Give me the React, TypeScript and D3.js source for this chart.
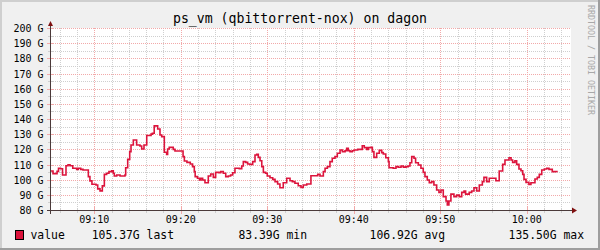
import React from "react";
import * as d3 from "d3";

const TITLE = "ps_vm (qbittorrent-nox) on dagon";
const WATERMARK = "RRDTOOL / TOBI OETIKER";
const SERIES_NAME = "value";
const START_TIME = "09:05:00";
const END_TIME = "10:05:00";

// seconds after START_TIME at which each step begins
const SAMPLE_SECONDS = [
  0, 14, 42, 52, 66, 80, 104, 118, 132, 151, 178, 189, 206, 222, 259, 270, 284, 312, 324, 340,
  356, 370, 386, 402, 421, 432, 439, 456, 479, 513, 518, 532, 546, 555, 571, 594, 617, 629, 645, 664,
  694, 703, 716, 740, 756, 768, 786, 802, 809, 820, 848, 860, 916, 925, 943, 966, 982, 994, 1000, 1016,
  1030, 1040, 1052, 1068, 1091, 1108, 1126, 1142, 1165, 1177, 1195, 1212, 1230, 1246, 1260, 1276, 1306, 1323, 1334, 1350,
  1364, 1380, 1399, 1415, 1427, 1438, 1450, 1462, 1473, 1489, 1500, 1519, 1538, 1554, 1572, 1588, 1611, 1635, 1658, 1674,
  1692, 1715, 1734, 1750, 1774, 1803, 1850, 1866, 1889, 1901, 1917, 1935, 1951, 1970, 1986, 2005, 2021, 2040, 2051, 2062,
  2074, 2090, 2104, 2127, 2159, 2173, 2190, 2201, 2217, 2229, 2240, 2259, 2277, 2294, 2305, 2322, 2340, 2345, 2374, 2393,
  2409, 2428, 2444, 2462, 2478, 2490, 2502, 2518, 2529, 2548, 2566, 2582, 2594, 2610, 2624, 2640, 2656, 2675, 2691, 2705,
  2721, 2740, 2749, 2760, 2774, 2795, 2814, 2832, 2849, 2865, 2876, 2901, 2918, 2934, 2953, 2971, 2992, 3003, 3022, 3040,
  3086, 3109, 3133, 3149, 3177, 3191, 3202, 3218, 3230, 3246, 3260, 3272, 3281, 3295, 3315, 3329, 3357, 3373, 3387, 3404,
  3422, 3439, 3454, 3477, 3501,
];
// value in G for each step
const SAMPLE_VALUES = [
  105.7, 104.0, 105.5, 107.5, 107.2, 103.1, 109.2, 109.8, 109.2, 107.5, 106.8, 107.5, 106.8, 106.4, 102.0, 99.2, 97.0, 96.5, 93.9, 92.6,
  95.9, 103.5, 104.2, 105.3, 105.9, 104.2, 102.4, 103.1, 102.4, 103.1, 107.9, 113.4, 118.5, 122.9, 126.2, 122.9, 122.2, 120.2, 122.9, 129.1,
  130.0, 130.6, 135.5, 133.4, 129.5, 128.4, 118.1, 116.7, 120.2, 121.3, 120.0, 118.9, 115.2, 112.3, 111.4, 110.3, 108.6, 105.3, 102.0, 100.9,
  99.8, 100.9, 99.8, 98.0, 102.4, 103.7, 101.5, 104.8, 104.6, 105.3, 104.2, 102.0, 102.4, 103.1, 104.6, 107.5, 107.3, 109.0, 111.9, 111.4,
  110.3, 110.1, 111.9, 116.3, 116.7, 114.7, 112.5, 108.6, 104.8, 104.2, 102.4, 101.3, 100.2, 98.7, 97.1, 94.7, 98.0, 100.9, 99.3, 98.7,
  97.6, 96.0, 94.9, 96.5, 97.1, 102.6, 103.5, 102.4, 105.3, 107.5, 108.6, 111.9, 114.1, 115.2, 117.4, 119.6, 118.5, 119.1, 120.7, 119.1,
  118.5, 119.1, 119.6, 120.0, 122.4, 121.1, 120.0, 121.1, 121.3, 118.5, 114.7, 117.4, 119.3, 117.8, 116.9, 114.5, 111.9, 107.9, 107.5, 108.6,
  108.2, 109.0, 108.3, 108.6, 109.0, 111.2, 115.2, 114.1, 111.2, 109.7, 107.5, 104.8, 102.0, 99.8, 98.0, 98.7, 96.5, 93.2, 91.6, 93.2,
  88.8, 85.9, 83.4, 85.9, 90.5, 88.8, 89.8, 88.8, 91.6, 92.5, 90.5, 91.6, 92.5, 94.7, 92.5, 96.5, 98.7, 101.5, 98.7, 100.9,
  99.3, 105.7, 110.1, 113.0, 114.5, 113.0, 111.4, 112.5, 110.1, 107.0, 105.9, 103.5, 100.2, 98.2, 96.9, 98.0, 100.4, 101.5, 103.5, 106.4,
  107.0, 107.5, 106.8, 105.3, 105.4,
];
const LAST_SAMPLE_END_SECONDS = 3515;

const X_TICK_LABELS = ["09:10", "09:20", "09:30", "09:40", "09:50", "10:00"];
const Y_TICK_VALUES = [80, 90, 100, 110, 120, 130, 140, 150, 160, 170, 180, 190, 200];
const LEGEND_NUMBERS = ["105.37G", "83.39G", "106.92G", "135.50G"];
const LEGEND_NAMES = ["last", "min", "avg", "max"];

const W = 600;
const H = 250;
const L = 51;
const R = 570;
const T = 28;
const B = 210;
const LINE_COLOR = "#dc143c";
const GRID_COLOR = "#cfcfcf";
const MGRID_COLOR = "#f2a9a9";
const AXIS_COLOR = "#4b3a3a";
const ARROW_COLOR = "#7f1010";
const MONO = "'DejaVu Sans Mono', 'Liberation Mono', monospace";

const parseHMS = d3.timeParse("%H:%M:%S");
const parseHM = d3.timeParse("%H:%M");

export default function App() {
  const t0 = parseHMS(START_TIME) as Date;
  const t1 = parseHMS(END_TIME) as Date;
  const x = d3.scaleTime().domain([t0, t1]).range([L, R]);
  const y = d3.scaleLinear().domain([80, 200]).range([B, T]);
  const at = (s: number) => new Date(t0.getTime() + s * 1000);
  const px = (v: number) => Math.round(v) + 0.5;

  const pts: [Date, number][] = SAMPLE_SECONDS.map((s, i) => [at(s), SAMPLE_VALUES[i]]);
  pts.push([at(LAST_SAMPLE_END_SECONDS), SAMPLE_VALUES[SAMPLE_VALUES.length - 1]]);
  const line = d3
    .line<[Date, number]>()
    .x((d) => x(d[0]))
    .y((d) => y(d[1]))
    .curve(d3.curveStepAfter);

  const majorTimes = X_TICK_LABELS.map((s) => {
    const d = parseHM(s) as Date;
    return new Date(t0.getFullYear(), t0.getMonth(), t0.getDate(), d.getHours(), d.getMinutes());
  });
  const majorKeys = new Set(majorTimes.map((d) => d.getTime()));
  const minorTimes = x.ticks(d3.timeMinute.every(2) as any).filter((d) => !majorKeys.has(d.getTime()) && d > t0 && d < t1);
  const minorVals = d3.range(85, 200, 10);
  const majorVals = Y_TICK_VALUES.filter((v) => v > 80);

  const legendRight = [174, 307, 445, 584];

  return (
    <svg width={W} height={H} style={{ position: "absolute", left: 0, top: 0, display: "block" }} fontFamily={MONO}>
      <rect x={0} y={0} width={W} height={H} fill="#f0f0f0" />
      {/* frame */}
      <rect x={0} y={0} width={W} height={2} fill="#cfcfcf" />
      <rect x={0} y={0} width={2} height={H} fill="#cfcfcf" />
      <rect x={0} y={H - 2} width={W} height={2} fill="#9e9e9e" />
      <rect x={W - 2} y={0} width={2} height={H} fill="#9e9e9e" />

      <rect x={L} y={T} width={R - L + 1} height={B - T + 1} fill="#ffffff" />

      {/* minor grid */}
      <g stroke={GRID_COLOR} strokeWidth={1} strokeDasharray="1,1" shapeRendering="crispEdges">
        {minorVals.map((v) => (
          <line key={"hm" + v} x1={L} x2={R + 1} y1={px(y(v))} y2={px(y(v))} />
        ))}
        {minorTimes.map((d) => (
          <line key={"vm" + d.getTime()} x1={px(x(d))} x2={px(x(d))} y1={T} y2={B} />
        ))}
      </g>
      {/* major grid */}
      <g stroke={MGRID_COLOR} strokeWidth={1} strokeDasharray="1,1" shapeRendering="crispEdges">
        {majorVals.map((v) => (
          <line key={"hM" + v} x1={L} x2={R + 1} y1={px(y(v))} y2={px(y(v))} />
        ))}
        {majorTimes.map((d) => (
          <line key={"vM" + d.getTime()} x1={px(x(d))} x2={px(x(d))} y1={T} y2={B} />
        ))}
      </g>
      {/* ticks */}
      <g strokeWidth={1} shapeRendering="crispEdges">
        {minorVals.map((v) => (
          <line key={"tm" + v} stroke={GRID_COLOR} x1={48} x2={53} y1={px(y(v))} y2={px(y(v))} />
        ))}
        {majorVals.map((v) => (
          <line key={"tM" + v} stroke={MGRID_COLOR} x1={47} x2={54} y1={px(y(v))} y2={px(y(v))} />
        ))}
        {minorTimes.map((d) => (
          <line key={"tx" + d.getTime()} stroke={GRID_COLOR} x1={px(x(d))} x2={px(x(d))} y1={B - 2} y2={B + 3} />
        ))}
        {majorTimes.map((d) => (
          <line key={"tX" + d.getTime()} stroke={MGRID_COLOR} x1={px(x(d))} x2={px(x(d))} y1={B - 3} y2={B + 4} />
        ))}
      </g>

      {/* data */}
      <path d={line(pts) || ""} fill="none" stroke={LINE_COLOR} strokeWidth={1.6} />

      {/* axes */}
      <g shapeRendering="crispEdges" stroke={AXIS_COLOR} strokeWidth={1}>
        <line x1={L - 0.5} x2={L - 0.5} y1={B + 4} y2={T - 3} />
        <line x1={L - 4} x2={R + 2} y1={B + 0.5} y2={B + 0.5} />
      </g>
      <path d={`M${L - 3},${T - 2} L${L + 2},${T - 2} L${L - 0.5},${T - 7} Z`} fill={ARROW_COLOR} />
      <path d={`M${R + 2},${B - 2.5} L${R + 2},${B + 3.5} L${R + 7},${B + 0.5} Z`} fill={ARROW_COLOR} />

      {/* y labels */}
      <g fontSize={10} fill="#000" textAnchor="end">
        {Y_TICK_VALUES.map((v) => (
          <text key={"yl" + v} x={43.5} y={px(y(v)) + 3.5}>
            {`${v} G`}
          </text>
        ))}
      </g>
      {/* x labels */}
      <g fontSize={10} fill="#000" textAnchor="middle">
        {majorTimes.map((d, i) => (
          <text key={"xl" + i} x={x(d)} y={223}>
            {X_TICK_LABELS[i]}
          </text>
        ))}
      </g>

      {/* title */}
      <text x={300} y={23} fontSize={13.2} textAnchor="middle" fill="#000">
        {TITLE}
      </text>
      {/* watermark */}
      <text transform="translate(587.5,5) rotate(90)" fontSize={8.3} fill="#a8a8a8">
        {WATERMARK}
      </text>

      {/* legend */}
      <rect x={15.5} y={230.5} width={8} height={9} fill={LINE_COLOR} stroke="#000" strokeWidth={1} shapeRendering="crispEdges" />
      <g fontSize={11.4} fill="#000">
        <text x={30.5} y={239}>{SERIES_NAME}</text>
        {LEGEND_NUMBERS.map((n, i) => (
          <text key={"lg" + i} x={legendRight[i]} y={239} textAnchor="end" xmlSpace="preserve">
            {`${n} ${LEGEND_NAMES[i]}`}
          </text>
        ))}
      </g>
    </svg>
  );
}
